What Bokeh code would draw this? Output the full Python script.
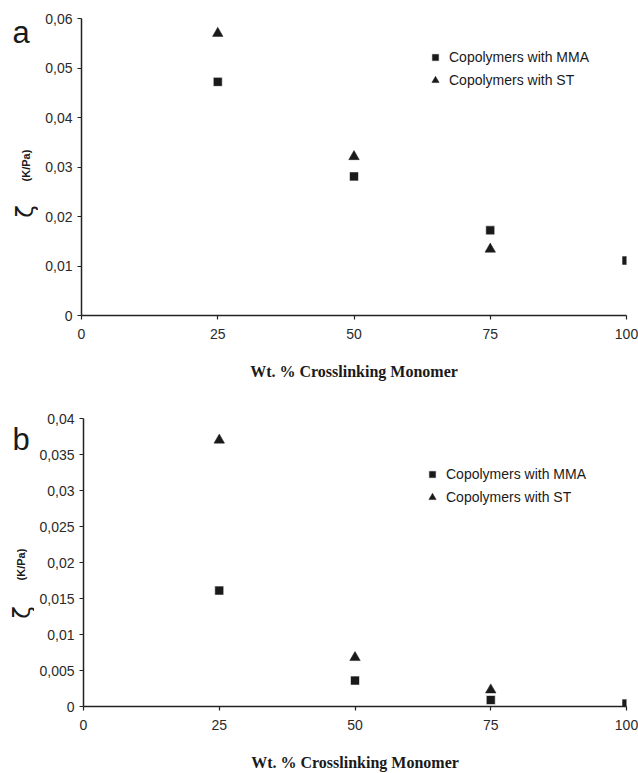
import math
from bokeh.plotting import figure
from bokeh.layouts import column, row
from bokeh.models import (Label, Legend, LegendItem, FixedTicker,
                          CustomJSTickFormatter, Range1d)
from bokeh.embed import file_html
from bokeh.resources import INLINE

# ---- data ----
wt_pct = [25, 50, 75, 100]
a_mma = [0.0472, 0.0281, 0.0172, 0.0111]
a_st_x = [25, 50, 75]
a_st = [0.0570, 0.0321, 0.0134]

b_mma = [0.0161, 0.0036, 0.0009, 0.0004]
b_st_x = [25, 50, 75]
b_st = [0.0370, 0.0068, 0.0023]

x_ticks = [0, 25, 50, 75, 100]
a_yticks = [0, 0.01, 0.02, 0.03, 0.04, 0.05, 0.06]
b_yticks = [0, 0.005, 0.01, 0.015, 0.02, 0.025, 0.03, 0.035, 0.04]

series_names = ["Copolymers with MMA", "Copolymers with ST"]
x_title = "Wt. % Crosslinking Monomer"

SANS = "Liberation Sans"
SERIF = "Liberation Serif"
INK = "#1a1a1a"


def side_panel(letter, side_w, height, zeta_pos, kpa_pos, letter_pos):
    s = figure(frame_width=side_w, frame_height=height, output_backend="svg",
               toolbar_location=None, title=None, x_range=Range1d(0, side_w),
               y_range=Range1d(0, height), x_axis_location=None,
               y_axis_location=None, min_border=0)
    s.outline_line_color = None
    s.grid.visible = False
    s.add_layout(Label(x=zeta_pos[0], y=zeta_pos[1], text="ζ",
                       angle=math.pi / 2, text_align="center",
                       text_baseline="middle", text_font="DejaVu Sans",
                       text_font_size="23px", text_color=INK))
    s.add_layout(Label(x=kpa_pos[0], y=kpa_pos[1], text="(K/Pa)",
                       angle=math.pi / 2, text_align="center",
                       text_baseline="middle", text_font=SANS,
                       text_font_style="bold", text_font_size="11px",
                       text_color=INK))
    s.add_layout(Label(x=letter_pos[0], y=letter_pos[1], text=letter,
                       text_align="left", text_baseline="alphabetic",
                       text_font=SANS, text_font_size="31px",
                       text_color=INK))
    return s


def make_panel(mma, st_x, st, yticks, ymax, side_w, height, borders, leg_loc):
    left, right, top, bottom = borders
    p = figure(width=638 - side_w, height=height, output_backend="svg",
               toolbar_location=None,
               x_range=Range1d(0, 100), y_range=Range1d(0, ymax),
               min_border_left=left, min_border_right=right,
               min_border_top=top, min_border_bottom=bottom)
    p.outline_line_color = None
    p.grid.visible = False

    for ax in (p.xaxis[0], p.yaxis[0]):
        ax.axis_line_color = "#222222"
        ax.axis_line_width = 1.5
        ax.major_tick_line_color = "#222222"
        ax.major_tick_line_width = 1.2
        ax.major_tick_in = 0
        ax.major_tick_out = 4
        ax.minor_tick_line_color = None
        ax.major_label_text_font = SANS
        ax.major_label_text_font_size = "14px"
        ax.major_label_text_color = "#2a2a2a"

    p.xaxis.ticker = FixedTicker(ticks=x_ticks)
    p.xaxis.major_label_standoff = 9
    p.xaxis.axis_label = x_title
    p.xaxis.axis_label_text_font = SERIF
    p.xaxis.axis_label_text_font_style = "bold"
    p.xaxis.axis_label_text_font_size = "16px"
    p.xaxis.axis_label_text_color = INK
    p.xaxis.axis_label_standoff = 21

    p.yaxis.ticker = FixedTicker(ticks=yticks)
    p.yaxis.major_label_standoff = 5
    p.yaxis.formatter = CustomJSTickFormatter(
        code="return (Math.round(tick*10000)/10000).toString().replace('.', ',');")

    r_st = p.scatter(st_x, st, marker="triangle", size=10.5,
                     fill_color=INK, line_color=INK, line_width=0.5)
    r_mma = p.scatter(wt_pct, mma, marker="square", size=9,
                      fill_color=INK, line_color="white", line_width=0.6)

    legend = Legend(items=[LegendItem(label=series_names[0], renderers=[r_mma]),
                           LegendItem(label=series_names[1], renderers=[r_st])],
                    location=leg_loc)
    legend.border_line_color = None
    legend.background_fill_alpha = 0
    legend.padding = 0
    legend.margin = 0
    legend.glyph_width = 18
    legend.glyph_height = 18
    legend.label_height = 18
    legend.spacing = 5
    legend.label_standoff = 5
    legend.label_text_font = SANS
    legend.label_text_font_size = "14px"
    legend.label_text_color = INK
    p.add_layout(legend, "center")
    return p


SIDE_A, SIDE_B = 38, 34
sa = side_panel("a", SIDE_A, 390, (24, 179), (25, 225), (12, 358))
pa = make_panel(a_mma, a_st_x, a_st, a_yticks, 0.06, SIDE_A, 390,
                (81 - SIDE_A, 12, 18, 75), (345, 226))
sb = side_panel("b", SIDE_B, 383, (21, 161), (20, 209), (12, 334))
pb = make_panel(b_mma, b_st_x, b_st, b_yticks, 0.04, SIDE_B, 383,
                (83 - SIDE_B, 12, 28, 65), (340, 200))

layout = column(row(column(sa, spacing=0), pa, spacing=0),
                row(column(sb, spacing=0), pb, spacing=0), spacing=0)
open("out.html", "w").write(file_html(layout, INLINE))
